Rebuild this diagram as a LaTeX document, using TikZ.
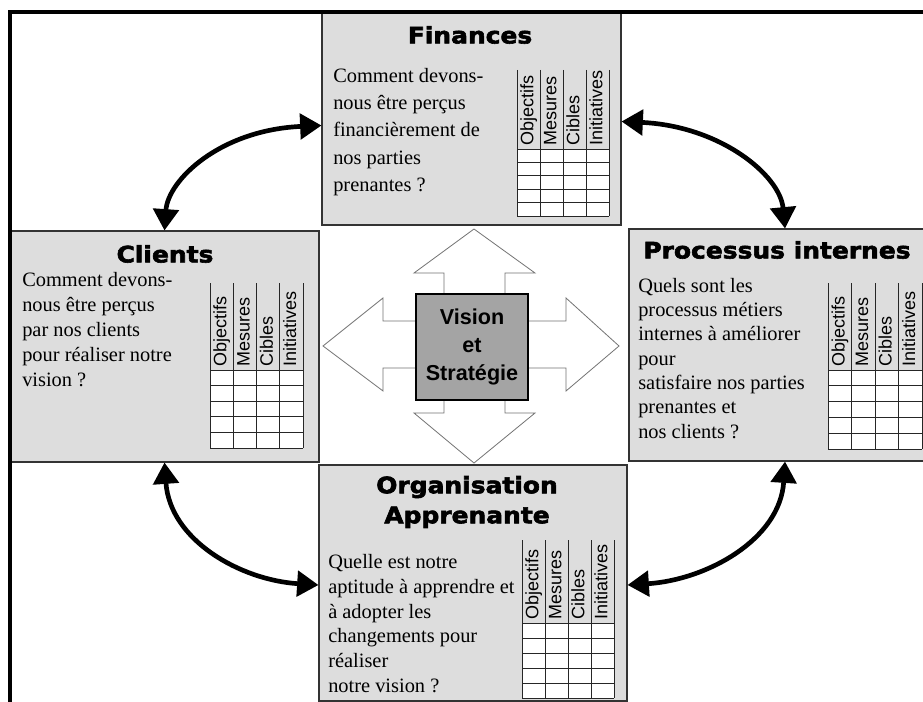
\documentclass[tikz,border=0pt]{standalone}
\usepackage{fontspec}
\setmainfont{Liberation Serif}
\setsansfont{Liberation Sans}
\newfontfamily\titlefont[FakeStretch=1.1,FakeBold=2.6]{DejaVu Sans}
\usetikzlibrary{arrows.meta}
\definecolor{boxgray}{HTML}{DDDDDD}
\definecolor{midgray}{HTML}{A4A4A4}
\tikzset{
  box/.style={draw=black!80, line width=0.8pt, fill=boxgray, inner sep=0pt},
  ttl/.style={font=\titlefont\bfseries\fontsize{17}{22.5}\selectfont, align=center, inner sep=0pt},
  body/.style={anchor=north west, align=left, inner sep=0pt, font=\fontsize{15.3}{#1}\selectfont},
  lab/.style={rotate=90, anchor=west, inner sep=0pt, text height=9.8pt, text depth=2.6pt,
              font=\sffamily\fontsize{13.5}{14}\selectfont},
  tabline/.style={draw=black!85, line width=0.7pt},
  bigarrow/.style={line width=3.5pt, {Triangle[length=16pt,width=19pt]}-{Triangle[length=16pt,width=19pt]}},
  cross/.style={draw=black!55, fill=white, line width=0.6pt, line join=miter},
}
% #1 name, #2 x left, #3 column width, #4 header top, #5 header bottom, #6 row height
\newcommand\bsctab[6]{%
  \fill[white] (#2,#5) rectangle ({#2+4*#3},{#5+5*#6});
  \foreach \r in {0,...,5} \draw[tabline] (#2,{#5+\r*#6}) -- ({#2+4*#3},{#5+\r*#6});
  \foreach \c in {0,...,4} \draw[tabline] ({#2+\c*#3},#4) -- ({#2+\c*#3},{#5+5*#6});
  \foreach \lbl [count=\k] in {Objectifs,Mesures,Cibles,Initiatives}
    \node[lab] (#1\k) at ({#2+(\k-0.5)*#3},{#5-3}) {\lbl};
}
\begin{document}
\begin{tikzpicture}[x=0.75pt,y=-0.75pt]
\useasboundingbox[fill=white] (0,0) rectangle (923,702);

% perspective boxes
\node[box, minimum width=299*0.75pt, minimum height=213*0.75pt] (fin) at (471.5,118.5) {};
\node[box, minimum width=309*0.75pt, minimum height=231*0.75pt] (cli) at (164.5,346.5) {};
\node[box, minimum width=296*0.75pt, minimum height=232*0.75pt] (pro) at (777,345) {};
\node[box, minimum width=308*0.75pt, minimum height=236*0.75pt] (org) at (473,583) {};

% titles
\node[ttl] (finT) at (470,35) {Finances};
\node[ttl] (cliT) at (165,254) {Clients};
\node[ttl] (proT) at (777,250) {Processus internes};
\node[ttl] (orgT) at (467,502) {Organisation\\Apprenante};

% questions
\node[body=20.4pt] (finQ) at (333,68) {Comment devons-\\nous être perçus\\financièrement de\\nos parties\\prenantes ?};
\node[body=18.8pt] (cliQ) at (22,272) {Comment devons-\\nous être perçus\\par nos clients\\pour réaliser notre\\vision ?};
\node[body=18.2pt] (proQ) at (638,278) {Quels sont les\\processus métiers\\internes à améliorer\\pour\\satisfaire nos parties\\prenantes et\\nos clients ?};
\node[body=18.6pt] (orgQ) at (328,554) {Quelle est notre\\aptitude à apprendre et\\à adopter les\\changements pour\\réaliser\\notre vision ?};

% tables
\bsctab{finC}{517}{23}{70}{149}{13.4}
\bsctab{cliC}{210}{23.25}{283}{370}{15.6}
\bsctab{proC}{828}{23.5}{283}{370}{15.8}
\bsctab{orgC}{522}{23}{540}{623}{15}

% four-way arrow
\draw[cross] (474,229) -- (535,273) -- (505,273) -- (505,321) -- (566,321) -- (566,298)
  -- (619,346) -- (566,391) -- (566,368) -- (505,368) -- (505,413) -- (535,413)
  -- (474,463) -- (414,413) -- (444,413) -- (444,368) -- (383,368) -- (383,391)
  -- (323,346) -- (383,298) -- (383,321) -- (444,321) -- (444,273) -- (414,273) -- cycle;

% centre
\node[draw=black, line width=0.8pt, fill=midgray, minimum width=112*0.75pt, minimum height=106*0.75pt,
      align=center, inner sep=0pt, font=\sffamily\bfseries\fontsize{16.2}{21}\selectfont]
      (vis) at (472,347) {Vision\\et\\Stratégie};

% curved double arrows
\draw[bigarrow] ([yshift=-7*0.75pt]fin.west) .. controls (220,130) and (168,180) .. (cli.north);
\draw[bigarrow] ([yshift=-3*0.75pt]fin.east) .. controls (720,126) and (780,175) .. ([xshift=8*0.75pt]pro.north);
\draw[bigarrow] (cli.south) .. controls (170,540) and (240,580) .. ([yshift=-2*0.75pt]org.west);
\draw[bigarrow] ([xshift=8*0.75pt]pro.south) .. controls (780,540) and (706,580) .. ([yshift=-2*0.75pt]org.east);

% outer frame
\draw[line width=2.3pt] (10,702) -- (10,12) -- (923,12);
\end{tikzpicture}
\end{document}
